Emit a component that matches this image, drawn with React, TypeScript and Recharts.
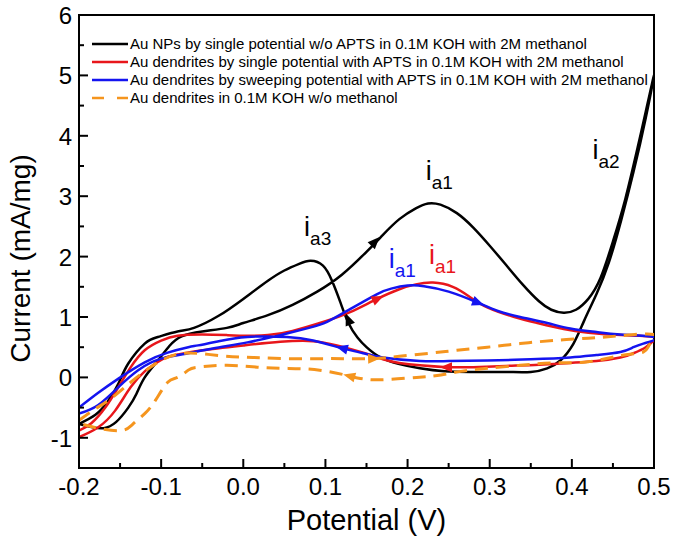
import React from "react";
import {
  ComposedChart,
  Line,
  Scatter,
  XAxis,
  YAxis,
  ReferenceArea,
  Legend,
} from "recharts";

// potential (V) / current (mA/mg), each loop: forward scan then reverse scan
const npsV = [
  -0.2, -0.185, -0.17, -0.155, -0.14, -0.13, -0.12, -0.104, -0.09, -0.075, -0.05, -0.02, 0.0, 0.03, 0.06, 0.09,
  0.12, 0.15, 0.17, 0.19, 0.21, 0.225, 0.24, 0.26, 0.28, 0.3, 0.32, 0.34, 0.36, 0.375, 0.39, 0.405, 0.42, 0.435,
  0.45, 0.465, 0.48, 0.49, 0.5,
  0.49, 0.475, 0.46, 0.445, 0.43, 0.415, 0.402, 0.386, 0.37, 0.35, 0.32, 0.28, 0.245, 0.215, 0.19, 0.167, 0.15,
  0.139, 0.128, 0.118, 0.108, 0.097, 0.082, 0.068, 0.05, 0.03, 0.0, -0.03, -0.06, -0.08, -0.104, -0.12, -0.14,
  -0.152, -0.165, -0.18, -0.2,
];
const npsI = [
  -0.77, -0.82, -0.84, -0.74, -0.5, -0.27, 0.0, 0.28, 0.52, 0.68, 0.76, 0.82, 0.9, 1.03, 1.2, 1.42,
  1.7, 2.08, 2.36, 2.62, 2.8, 2.88, 2.86, 2.72, 2.48, 2.18, 1.86, 1.54, 1.26, 1.12, 1.07, 1.12, 1.3, 1.65,
  2.25, 2.95, 3.8, 4.4, 5.0,
  4.3, 3.4, 2.6, 1.9, 1.38, 0.94, 0.56, 0.28, 0.15, 0.09, 0.09, 0.09, 0.1, 0.15, 0.22, 0.33, 0.5,
  0.66, 0.9, 1.25, 1.6, 1.85, 1.93, 1.88, 1.77, 1.6, 1.3, 1.02, 0.82, 0.76, 0.67, 0.56, 0.23,
  -0.1, -0.4, -0.62, -0.77,
];

const singleV = [
  -0.2, -0.185, -0.168, -0.152, -0.137, -0.12, -0.1, -0.08, -0.05, -0.02, 0.005, 0.03, 0.06, 0.1, 0.13, 0.163,
  0.19, 0.21, 0.231, 0.255, 0.275, 0.297, 0.33, 0.358, 0.39, 0.42, 0.46, 0.5,
  0.497, 0.49, 0.475, 0.459, 0.43, 0.398, 0.36, 0.32, 0.28, 0.248, 0.215, 0.19, 0.17, 0.146, 0.114, 0.085,
  0.045, 0.0, -0.05, -0.08, -0.096, -0.11, -0.12, -0.137, -0.156, -0.177, -0.2,
];
const singleI = [
  -0.88, -0.76, -0.5, -0.16, 0.17, 0.45, 0.61, 0.69, 0.71, 0.7, 0.69, 0.7, 0.77, 0.93, 1.08, 1.3,
  1.46, 1.54, 1.57, 1.5, 1.34, 1.16, 1.0, 0.9, 0.8, 0.74, 0.7, 0.67,
  0.58, 0.5, 0.4, 0.33, 0.27, 0.24, 0.21, 0.19, 0.17, 0.17, 0.2, 0.24, 0.3, 0.41, 0.53, 0.6,
  0.59, 0.53, 0.45, 0.38, 0.32, 0.2, 0.1, -0.16, -0.55, -0.83, -0.99,
];

const sweepV = [
  -0.2, -0.177, -0.152, -0.128, -0.1, -0.067, -0.037, 0.005, 0.045, 0.08, 0.102, 0.13, 0.163, 0.18, 0.2, 0.22,
  0.25, 0.285, 0.31, 0.337, 0.37, 0.398, 0.43, 0.459, 0.5,
  0.497, 0.487, 0.475, 0.459, 0.43, 0.398, 0.35, 0.297, 0.25, 0.215, 0.17, 0.146, 0.121, 0.085, 0.053, 0.005,
  -0.03, -0.055, -0.067, -0.092, -0.12, -0.152, -0.177, -0.2,
];
const sweepI = [
  -0.6, -0.46, -0.16, 0.12, 0.31, 0.4, 0.48, 0.58, 0.7, 0.82, 0.92, 1.13, 1.38, 1.47, 1.52, 1.51,
  1.42, 1.24, 1.1, 1.0, 0.9, 0.81, 0.75, 0.71, 0.67,
  0.6, 0.56, 0.5, 0.42, 0.37, 0.33, 0.3, 0.28, 0.27, 0.27, 0.33, 0.4, 0.48, 0.61, 0.67, 0.67,
  0.6, 0.53, 0.5, 0.41, 0.25, -0.02, -0.26, -0.5,
];

const noMeOHV = [
  -0.2, -0.18, -0.161, -0.137, -0.118, -0.1, -0.071, -0.028, 0.012, 0.053, 0.093, 0.126, 0.158, 0.19, 0.227,
  0.26, 0.297, 0.337, 0.377, 0.42, 0.459, 0.5,
  0.495, 0.487, 0.459, 0.42, 0.377, 0.337, 0.297, 0.265, 0.236, 0.211, 0.163, 0.13, 0.093, 0.053, 0.017, -0.02,
  -0.055, -0.067, -0.08, -0.092, -0.107, -0.12, -0.135, -0.149, -0.177, -0.2,
];
const noMeOHI = [
  -0.71, -0.52, -0.35, -0.08, 0.12, 0.28, 0.4, 0.36, 0.33, 0.31, 0.31, 0.31, 0.31, 0.35, 0.4,
  0.45, 0.5, 0.56, 0.61, 0.65, 0.69, 0.71,
  0.55, 0.42, 0.36, 0.26, 0.24, 0.2, 0.15, 0.1, 0.03, 0.0, -0.04, 0.02, 0.12, 0.15, 0.17, 0.2,
  0.17, 0.12, 0.0, -0.08, -0.38, -0.6, -0.78, -0.88, -0.84, -0.76,
];

// scan-direction arrowheads (position + heading in degrees)
const npsArrowV = [0.16, 0.128];
const npsArrowI = [2.24, 0.95];
const npsArrowDir = [-46, -112];
const singleArrowV = [0.163, 0.248];
const singleArrowI = [1.3, 0.17];
const singleArrowDir = [-25, 180];
const sweepArrowV = [0.285, 0.121];
const sweepArrowI = [1.24, 0.48];
const sweepArrowDir = [21, -165];
const noMeOHArrowV = [0.158, 0.13];
const noMeOHArrowI = [0.31, 0.02];
const noMeOHArrowDir = [-2, -165];

const xTicks = [-0.2, -0.15, -0.1, -0.05, 0, 0.05, 0.1, 0.15, 0.2, 0.25, 0.3, 0.35, 0.4, 0.45, 0.5];
const yTicks = [-1, -0.5, 0, 0.5, 1, 1.5, 2, 2.5, 3, 3.5, 4, 4.5, 5, 5.5, 6];

const zip = (v: number[], i: number[]) => v.map((x, k) => ({ x, y: i[k] }));
const arrows = (v: number[], i: number[], d: number[]) => v.map((x, k) => ({ x, y: i[k], dir: d[k] }));

const SERIES = [
  {
    name: "Au NPs by single potential w/o APTS in 0.1M KOH with 2M methanol",
    color: "#000000",
    data: zip(npsV, npsI),
    arrows: arrows(npsArrowV, npsArrowI, npsArrowDir),
  },
  {
    name: "Au dendrites by single potential with APTS in 0.1M KOH with 2M methanol",
    color: "#e8161b",
    data: zip(singleV, singleI),
    arrows: arrows(singleArrowV, singleArrowI, singleArrowDir),
  },
  {
    name: "Au dendrites by sweeping potential with APTS in 0.1M KOH with 2M methanol",
    color: "#1414f0",
    data: zip(sweepV, sweepI),
    arrows: arrows(sweepArrowV, sweepArrowI, sweepArrowDir),
  },
  {
    name: "Au dendrites in 0.1M KOH w/o methanol",
    color: "#f5951e",
    dash: "13 8",
    data: zip(noMeOHV, noMeOHI),
    arrows: arrows(noMeOHArrowV, noMeOHArrowI, noMeOHArrowDir),
  },
];

// peak labels i_a1, i_a2, i_a3
const peakLabels = [
  { x: 0.222, y: 3.26, sub: "a1", series: 0 },
  { x: 0.425, y: 3.62, sub: "a2", series: 0 },
  { x: 0.074, y: 2.34, sub: "a3", series: 0 },
  { x: 0.177, y: 1.81, sub: "a1", series: 2 },
  { x: 0.226, y: 1.87, sub: "a1", series: 1 },
];

const FONT = "'Liberation Sans', Arial, Helvetica, sans-serif";

const XTick = (p: any) => {
  const v = p.payload.value;
  const major = Math.abs(v * 10 - Math.round(v * 10)) < 1e-6;
  return (
    <g>
      <line x1={p.x} x2={p.x} y1={p.y} y2={p.y - (major ? 9 : 5)} stroke="#000" strokeWidth={2} />
      {major && (
        <text x={p.x} y={p.y + 27} textAnchor="middle" fontSize={24} fontFamily={FONT} fill="#000">
          {v.toFixed(1)}
        </text>
      )}
    </g>
  );
};

const YTick = (p: any) => {
  const v = p.payload.value;
  const major = Number.isInteger(v);
  return (
    <g>
      <line x1={p.x} x2={p.x + (major ? 9 : 5)} y1={p.y} y2={p.y} stroke="#000" strokeWidth={2} />
      {major && (
        <text x={p.x - 7} y={p.y + 9} textAnchor="end" fontSize={24} fontFamily={FONT} fill="#000">
          {v}
        </text>
      )}
    </g>
  );
};

const Arrowhead = (p: any) => {
  const { cx, cy, payload, fill } = p;
  return (
    <polygon
      points="7,0 -5,-5 -5,5"
      fill={fill}
      transform={`translate(${cx},${cy}) rotate(${payload.dir})`}
    />
  );
};

const PeakLabel = (p: any) => {
  const { cx, cy, payload } = p;
  const color = SERIES[payload.series].color;
  return (
    <text x={cx} y={cy} fill={color} fontFamily={FONT} fontSize={27}>
      <tspan>i</tspan>
      <tspan fontSize={19} dy={9}>
        {payload.sub}
      </tspan>
    </text>
  );
};

const LegendBox = () => (
  <div style={{ fontFamily: FONT, fontSize: 15, lineHeight: "18px", color: "#000" }}>
    {SERIES.map((s) => (
      <div key={s.name} style={{ display: "flex", alignItems: "center", whiteSpace: "nowrap" }}>
        <svg width={38} height={18} style={{ marginRight: 1 }}>
          <line x1={1} y1={9} x2={37} y2={9} stroke={s.color} strokeWidth={2.5} strokeDasharray={s.dash ? "12 13" : undefined} />
        </svg>
        <span>{s.name}</span>
      </div>
    ))}
  </div>
);

export default function App() {
  return (
    <div style={{ position: "absolute", left: 0, top: 0, width: 675, height: 539, background: "#fff" }}>
      <ComposedChart width={675} height={539} margin={{ top: 15, right: 21, bottom: 0, left: 0 }}>
        <XAxis
          type="number"
          dataKey="x"
          domain={[-0.2, 0.5]}
          ticks={xTicks}
          interval={0}
          allowDataOverflow
          height={71}
          tickSize={0}
          tickMargin={0}
          tickLine={false}
          axisLine={{ stroke: "#000", strokeWidth: 2 }}
          tick={(p: any) => <XTick {...p} />}
          label={{ value: "Potential (V)", position: "insideBottom", offset: 9, fontSize: 29, fontFamily: FONT, fill: "#000" }}
        />
        <YAxis
          type="number"
          dataKey="y"
          domain={[-1.5, 6]}
          ticks={yTicks}
          interval={0}
          allowDataOverflow
          width={79}
          tickSize={0}
          tickMargin={0}
          tickLine={false}
          axisLine={{ stroke: "#000", strokeWidth: 2 }}
          tick={(p: any) => <YTick {...p} />}
          label={{
            content: (lp: any) => {
              const vb = lp.viewBox;
              return (
                <text
                  transform={`translate(${vb.x + 20},${vb.y + vb.height / 2 + 17}) rotate(-90)`}
                  textAnchor="middle"
                  dominantBaseline="central"
                  fontSize={28}
                  fontFamily={FONT}
                  fill="#000"
                >
                  Current (mA/mg)
                </text>
              );
            },
          }}
        />
        <ReferenceArea x1={-0.2} x2={0.5} y1={-1.5} y2={6} fill="none" stroke="#000" strokeWidth={2} />
        {SERIES.map((s) => (
          <Line
            key={s.name}
            data={s.data}
            dataKey="y"
            type="natural"
            stroke={s.color}
            strokeWidth={s.dash ? 3 : 2.5}
            strokeDasharray={s.dash}
            dot={false}
            activeDot={false}
            isAnimationActive={false}
          />
        ))}
        {SERIES.map((s) => (
          <Scatter
            key={s.name + "-arrows"}
            data={s.arrows}
            dataKey="y"
            fill={s.color}
            shape={(p: any) => <Arrowhead {...p} fill={s.color} />}
            isAnimationActive={false}
          />
        ))}
        <Scatter data={peakLabels} dataKey="y" shape={(p: any) => <PeakLabel {...p} />} isAnimationActive={false} />
        <Legend
          layout="horizontal"
          verticalAlign="middle"
          align="center"
          wrapperStyle={{ top: 35, left: 91, width: "auto" }}
          content={() => <LegendBox />}
        />
      </ComposedChart>
    </div>
  );
}
